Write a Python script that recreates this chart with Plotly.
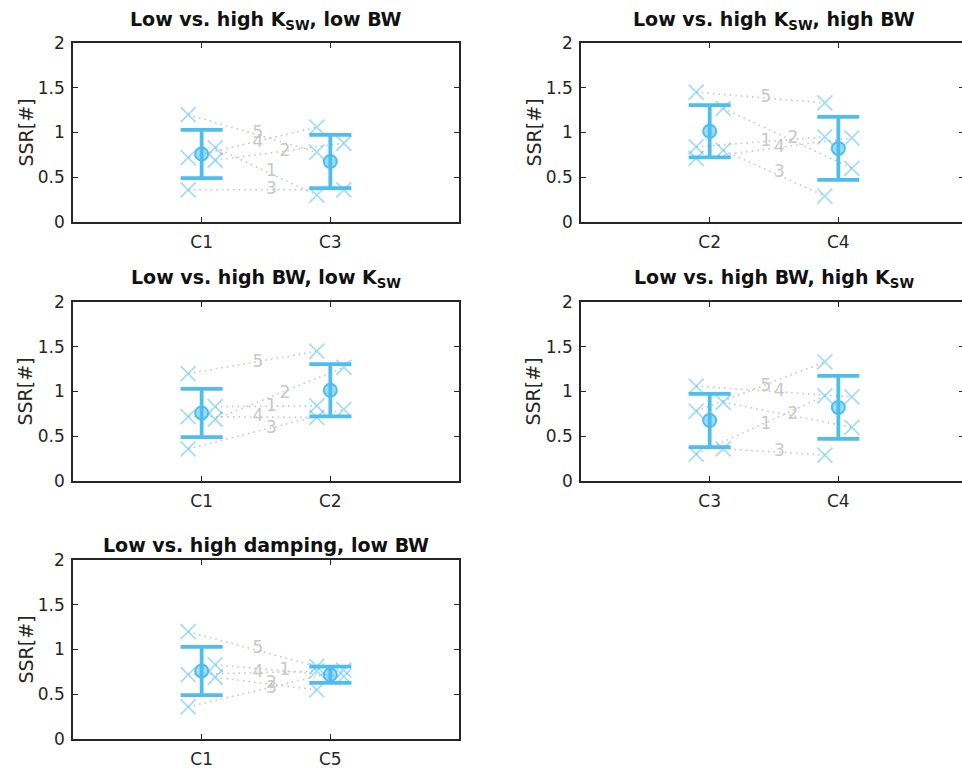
import numpy as np
import plotly.graph_objects as go

# ---------------- data ----------------
subjects = ["1", "2", "3", "4", "5"]
c1_ssr = [0.83, 0.69, 0.36, 0.72, 1.20]
c2_ssr = [0.84, 1.27, 0.80, 0.71, 1.45]
c3_ssr = [0.30, 0.88, 0.36, 1.06, 0.78]
c4_ssr = [0.95, 0.60, 0.29, 0.94, 1.33]
c5_ssr = [0.70, 0.55, 0.77, 0.76, 0.81]
ssr = {"C1": c1_ssr, "C2": c2_ssr, "C3": c3_ssr, "C4": c4_ssr, "C5": c5_ssr}

# jitter side of each subject's cross within a condition (-1 left, +1 right)
c1_side = [1, 1, -1, -1, -1]
c2_side = [-1, 1, 1, -1, -1]
c3_side = [-1, 1, 1, -1, -1]
c4_side = [-1, 1, -1, 1, -1]
c5_side = [1, -1, 1, -1, -1]
side = {"C1": c1_side, "C2": c2_side, "C3": c3_side, "C4": c4_side, "C5": c5_side}

panel_pairs = [("C1", "C3"), ("C2", "C4"), ("C1", "C2"), ("C3", "C4"), ("C1", "C5")]
panel_titles = [
    "Low vs. high K<sub>SW</sub>, low BW",
    "Low vs. high K<sub>SW</sub>, high BW",
    "Low vs. high BW, low K<sub>SW</sub>",
    "Low vs. high BW, high K<sub>SW</sub>",
    "Low vs. high damping, low BW",
]
y_ticks = [0, 0.5, 1, 1.5, 2]
y_ticktext = ["0", "0.5", "1", "1.5", "2"]
y_label = "SSR[#]"

# ---------------- styling ----------------
W, H = 962, 769
FONT = "DejaVu Sans"
BLUE = "#4DBEEE"
BLUE_T = "rgba(77,190,238,0.5)"
GREY = "#c8c8c8"
AX = "#262626"
JIT = 0.105

cols = [(73, 459), (581, 967)]
rows = [43, 302, 560]
PH = 179

fig = go.Figure()
annotations = []

for k, ((ca, cb), title) in enumerate(zip(panel_pairs, panel_titles)):
    n = k + 1
    xa = "x" if n == 1 else f"x{n}"
    ya = "y" if n == 1 else f"y{n}"
    col = k % 2
    row = k // 2
    x0p, x1p = cols[col]
    top = rows[row]
    bot = top + PH
    x1_vis = min(x1p, W)
    xr_max = 3.0 * (x1_vis - x0p) / (x1p - x0p)

    pos = {ca: 1, cb: 2}
    # dotted subject lines
    lx, ly, tx, ty = [], [], [], []
    for i in range(len(subjects)):
        xa_ = pos[ca] + JIT * side[ca][i]
        xb_ = pos[cb] + JIT * side[cb][i]
        va, vb = ssr[ca][i], ssr[cb][i]
        lx += [xa_, xb_, None]
        ly += [va, vb, None]
        tx.append((xa_ + xb_) / 2)
        ty.append((va + vb) / 2)
    fig.add_trace(go.Scatter(x=lx, y=ly, mode="lines", xaxis=xa, yaxis=ya,
                             line=dict(color=GREY, width=1.6, dash="1.6px,4px"),
                             hoverinfo="skip"))
    # crosses
    for c in (ca, cb):
        fig.add_trace(go.Scatter(
            x=[pos[c] + JIT * s for s in side[c]], y=ssr[c], mode="markers",
            xaxis=xa, yaxis=ya,
            marker=dict(symbol="x-thin-open", size=15, color=BLUE_T,
                        line=dict(color=BLUE_T, width=1.8))))
    # labels
    fig.add_trace(go.Scatter(x=tx, y=ty, mode="text", text=subjects,
                             textposition="middle right", xaxis=xa, yaxis=ya,
                             textfont=dict(family=FONT, size=17, color=GREY)))
    # mean +- sd
    means = [float(np.mean(ssr[c])) for c in (ca, cb)]
    sds = [float(np.std(ssr[c])) for c in (ca, cb)]
    fig.add_trace(go.Scatter(
        x=[1, 2], y=means, mode="markers", xaxis=xa, yaxis=ya,
        error_y=dict(type="data", array=sds, visible=True, color=BLUE,
                     thickness=3.8, width=21),
        marker=dict(symbol="circle", size=13, color="rgba(77,190,238,0.55)",
                    line=dict(color=BLUE, width=2))))

    xdom = [x0p / W, x1_vis / W]
    ydom = [1 - bot / H, 1 - top / H]
    fig.layout[f"xaxis{'' if n == 1 else n}"] = dict(
        domain=xdom, range=[0, xr_max], anchor=ya, tickvals=[1, 2], ticktext=[ca, cb],
        showline=True, linecolor=AX, linewidth=1.5, mirror="ticks",
        ticks="inside", ticklen=5, tickwidth=1.3, tickcolor=AX,
        showgrid=False, zeroline=False, ticklabelstandoff=4, automargin=False,
        tickfont=dict(family=FONT, size=17, color=AX), fixedrange=True)
    fig.layout[f"yaxis{'' if n == 1 else n}"] = dict(
        domain=ydom, range=[0, 2], anchor=xa, tickvals=y_ticks, ticktext=y_ticktext,
        showline=True, linecolor=AX, linewidth=1.5,
        mirror="ticks" if col == 0 else False,
        ticks="inside", ticklen=5, tickwidth=1.3, tickcolor=AX,
        showgrid=False, zeroline=False, ticklabelstandoff=3, automargin=False,
        tickfont=dict(family=FONT, size=17, color=AX), fixedrange=True)
    if col == 1:
        m = n + 5
        fig.layout[f"yaxis{m}"] = dict(
            overlaying=ya, side="right", anchor=xa, range=[0, 2], tickvals=y_ticks,
            showticklabels=False, ticks="inside", ticklen=3, tickwidth=1.3,
            tickcolor=AX, showline=False, showgrid=False, zeroline=False,
            automargin=False, fixedrange=True)
        fig.add_trace(go.Scatter(x=[None], y=[None], xaxis=xa, yaxis=f"y{m}",
                                 mode="markers", hoverinfo="skip"))

    # title
    has_sub = "<sub>" in title
    annotations.append(dict(
        text=f"<b>{title}</b>", xref="paper", yref="paper",
        x=((x0p + x1p) / 2) / W, y=1 - (top - (23 if has_sub else 15)) / H,
        xanchor="center", yanchor="middle",
        showarrow=False, font=dict(family=FONT, size=19, color="#111111")))
    # y label
    annotations.append(dict(
        text=y_label, xref="paper", yref="paper",
        x=(x0p - 48) / W, y=1 - (top + PH / 2) / H, xanchor="center",
        yanchor="middle", textangle=-90, showarrow=False,
        font=dict(family=FONT, size=19, color=AX)))

fig.update_layout(width=W, height=H, autosize=False,
                  margin=dict(l=0, r=0, t=0, b=0, pad=0),
                  paper_bgcolor="white", plot_bgcolor="white",
                  showlegend=False, annotations=annotations)
fig.write_html("out.html",
               config={"displayModeBar": False, "responsive": False},
               post_script="document.body.style.margin='0';"
                           "document.body.style.overflow='hidden';")
